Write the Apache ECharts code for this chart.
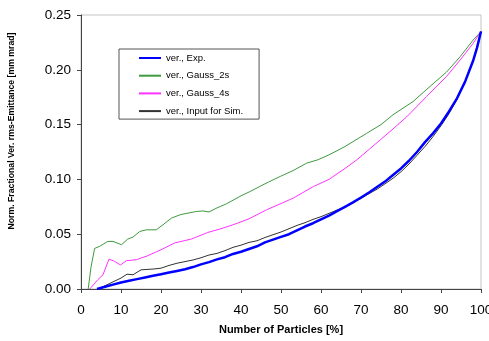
<!DOCTYPE html>
<html>
<head>
<meta charset="utf-8">
<script src="https://cdn.jsdelivr.net/npm/echarts@6/dist/echarts.min.js"></script>
<style>
html,body{margin:0;padding:0;background:#fff;}
#c{width:489px;height:341px;}
</style>
</head>
<body>
<div id="c"></div>
<script>
var seriesNames = ['ver., Exp.', 'ver., Gauss_2s', 'ver., Gauss_4s', 'ver., Input for Sim.'];
var xTicks = [0, 10, 20, 30, 40, 50, 60, 70, 80, 90, 100];
var yTicks = [0.00, 0.05, 0.10, 0.15, 0.20, 0.25];

var expX = [4,6,8,10,12,14,16,18,20,22,24,26,28,30,32,34,36,38,40,42,44,46,48,50,52,54,56,58,60,62,64,66,68,70,72,74,76,78,80,82,84,86,88,90,92,94,96,98,99,100];
var expY = [0,0.002,0.004,0.006,0.0075,0.009,0.0105,0.012,0.0135,0.015,0.0165,0.018,0.020,0.0225,0.0245,0.027,0.029,0.032,0.034,0.0365,0.039,0.0425,0.045,0.0475,0.050,0.0535,0.057,0.060,0.0635,0.067,0.071,0.075,0.079,0.0835,0.088,0.093,0.098,0.104,0.110,0.117,0.125,0.134,0.142,0.151,0.162,0.174,0.189,0.208,0.220,0.235];

var g2X = [1.8,2.5,3.4,4.7,6.7,8,9,10.1,11.7,13,14.7,16.3,18.8,20.5,22.6,25,28.8,30.5,32,34,36.4,40,42.3,46,49.8,53,56.4,59.3,62,66,71.4,75,78,83,87,91.4,94.8,98,100];
var g2Y = [0,0.02,0.037,0.039,0.0434,0.0434,0.042,0.0404,0.0456,0.0474,0.0525,0.054,0.054,0.0586,0.0647,0.068,0.0707,0.0712,0.0703,0.074,0.0778,0.085,0.089,0.096,0.1027,0.108,0.1148,0.118,0.1224,0.130,0.142,0.150,0.159,0.171,0.184,0.198,0.212,0.227,0.235];

var g4X = [2.2,4.2,5.5,7,8.4,9.9,11.3,13.8,16.7,20,23.4,27.6,31.7,35,38,42,46.4,50,53.1,58.1,62,66,69,74.8,78,81.4,86.4,91.4,94.8,98,100];
var g4Y = [0,0.0085,0.013,0.0273,0.0252,0.0219,0.0258,0.0267,0.0304,0.0358,0.042,0.0456,0.0516,0.055,0.0586,0.064,0.0723,0.078,0.083,0.0935,0.100,0.110,0.118,0.136,0.146,0.157,0.1756,0.194,0.209,0.224,0.235];

var simX = [4.5,6,8,10,11.5,13,15,18,20,22,24,26,28,30,32,34,36,38,40,42,44,46,48,50,52,54,56,58,60,62,64,66,68,70,72,74,76,78,80,82,84,86,88,90,92,94,96,98,100];
var simY = [0,0.003,0.0065,0.010,0.0135,0.013,0.0175,0.0182,0.019,0.0215,0.0235,0.025,0.0265,0.0285,0.031,0.0325,0.035,0.038,0.040,0.0425,0.044,0.047,0.0495,0.052,0.055,0.058,0.0605,0.0635,0.066,0.069,0.072,0.075,0.079,0.0825,0.087,0.091,0.096,0.101,0.107,0.114,0.122,0.130,0.139,0.149,0.160,0.173,0.189,0.208,0.235];

function zip(xs, ys){ return xs.map(function(x,i){ return [x, ys[i]]; }); }

var FONT = '"Liberation Sans", Arial, sans-serif';
var chart = echarts.init(document.getElementById('c'), null, {renderer:'canvas'});
chart.setOption({
  animation: false,
  backgroundColor: '#fff',
  grid: {left: 81, right: 8, top: 15, bottom: 52, outerBoundsMode: 'none', containLabel: false, show: true, borderColor: '#c4c4c4', borderWidth: 1, backgroundColor: 'transparent'},
  legend: {
    orient: 'vertical', left: 119, top: 49,
    data: seriesNames,
    icon: 'rect',
    backgroundColor: '#fff', borderColor: '#555', borderWidth: 1,
    padding: [3, 16, 2, 20],
    itemWidth: 22, itemHeight: 2, itemGap: 5.7, itemTextGap: 1,
    textStyle: {fontFamily: FONT, fontSize: 9.5, lineHeight: 12, color: '#000'}
  },
  xAxis: {
    type: 'value', min: xTicks[0], max: xTicks[xTicks.length-1], interval: 10,
    axisLine: {show: true, lineStyle: {color: '#444', width: 1}},
    axisTick: {show: true, inside: false, length: 4, lineStyle: {color: '#444'}},
    axisLabel: {margin: 14, fontFamily: FONT, fontSize: 13.5, color: '#000', showMinLabel: true, showMaxLabel: true},
    splitLine: {show: false}
  },
  yAxis: {
    type: 'value', min: yTicks[0], max: yTicks[yTicks.length-1], interval: 0.05,
    axisLine: {show: true, lineStyle: {color: '#444', width: 1}},
    axisTick: {show: true, inside: false, length: 4, lineStyle: {color: '#444'}},
    axisLabel: {margin: 10, fontFamily: FONT, fontSize: 13.5, color: '#000', formatter: function(v){ return v.toFixed(2); }},
    splitLine: {show: false}
  },
  graphic: [
    {type: 'text', x: 281, y: 330, style: {text: 'Number of Particles [%]', font: 'bold 11px ' + FONT, fill: '#000', align: 'center', verticalAlign: 'middle'}},
    {type: 'text', x: 12, y: 131, rotation: Math.PI/2, style: {text: 'Norm. Fractional Ver. rms-Emittance [mm mrad]', font: 'bold 8.7px ' + FONT, fill: '#000', align: 'center', verticalAlign: 'middle'}}
  ],
  series: [
    {name: seriesNames[0], type: 'line', data: zip(expX, expY), symbol: 'none', z: 5, lineStyle: {color: '#0000ff', width: 2.5}, itemStyle: {color: '#0000ff'}},
    {name: seriesNames[1], type: 'line', data: zip(g2X, g2Y), symbol: 'none', z: 3, lineStyle: {color: '#3f9a3f', width: 1}, itemStyle: {color: '#3f9a3f'}},
    {name: seriesNames[2], type: 'line', data: zip(g4X, g4Y), symbol: 'none', z: 3, lineStyle: {color: '#ff33ff', width: 1}, itemStyle: {color: '#ff33ff'}},
    {name: seriesNames[3], type: 'line', data: zip(simX, simY), symbol: 'none', z: 4, lineStyle: {color: '#333333', width: 1}, itemStyle: {color: '#333333'}}
  ]
});
</script>
</body>
</html>
